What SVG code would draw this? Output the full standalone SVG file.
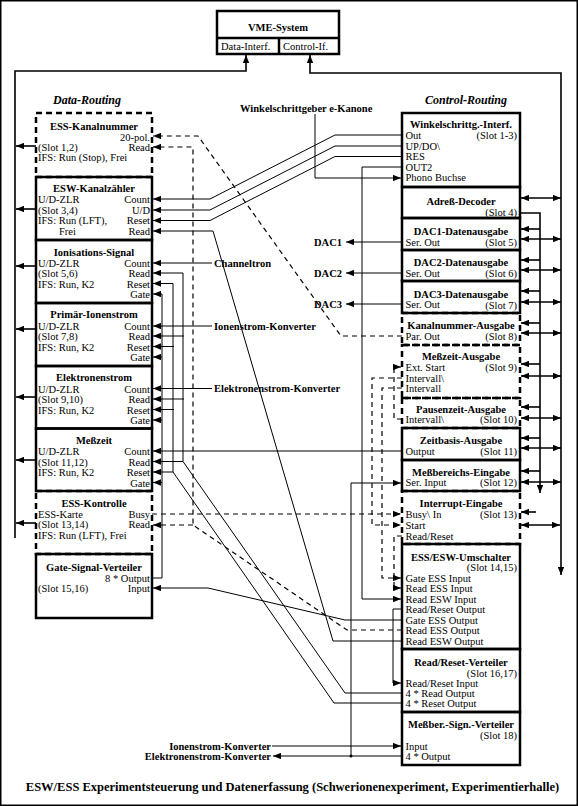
<svg xmlns="http://www.w3.org/2000/svg" width="578" height="806" viewBox="0 0 578 806">
<style>
.b{fill:none;stroke:#000;stroke-width:2.5}
.bd{fill:none;stroke:#000;stroke-width:2.5;stroke-dasharray:6 4}
.c{fill:none;stroke:#000;stroke-width:1}
.cd{fill:none;stroke:#000;stroke-width:1.2;stroke-dasharray:5 4}
.k{fill:none;stroke:#000;stroke-width:1.6}
.t{font-family:"Liberation Serif","Times New Roman",serif;font-size:10.5px;fill:#000}
.h{font-weight:bold;text-anchor:middle}
.r{text-anchor:end}
.bo{font-weight:bold}
.it{font-family:"Liberation Serif","Times New Roman",serif;font-size:12px;font-weight:bold;font-style:italic;text-anchor:middle}
</style>
<defs>
<marker id="a" viewBox="0 0 10 8" refX="10" refY="4" markerWidth="8" markerHeight="6.5" markerUnits="userSpaceOnUse" orient="auto-start-reverse"><path d="M0,0 L10,4 L0,8 z" fill="#000"/></marker>
</defs>
<rect x="0.75" y="0.75" width="576.5" height="804.5" fill="#fff" stroke="#000" stroke-width="1.5"/>

<g id="vme">
<rect class="b" x="217" y="11" width="122" height="43"/>
<line class="b" x1="217" y1="38" x2="339" y2="38"/>
<line class="b" x1="279" y1="38" x2="279" y2="54"/>
<text class="t h" x="278" y="31">VME-System</text>
<text class="t" x="221" y="50">Data-Interf.</text>
<text class="t" x="283" y="50">Control-If.</text>
</g>

<text class="it" x="87" y="104">Data-Routing</text>
<text class="it" x="466" y="104">Control-Routing</text>

<g id="ess-kanalnummer">
<rect class="bd" x="36" y="113" width="116" height="64"/>
<text class="t h" x="94" y="130">ESS-Kanalnummer</text>
<text class="t r" x="150" y="140.5">20-pol.</text>
<text class="t" x="38" y="151">(Slot 1,2)</text><text class="t r" x="150" y="151">Read</text>
<text class="t" x="38" y="161">IFS: Run (Stop), Frei</text>
</g>
<g id="ess-kontrolle">
<rect class="bd" x="36" y="491" width="116" height="63"/>
<text class="t h" x="94" y="506.5">ESS-Kontrolle</text>
<text class="t" x="38" y="517.5">ESS-Karte</text><text class="t r" x="150" y="517.5">Busy</text>
<text class="t" x="38" y="528">(Slot 13,14)</text><text class="t r" x="150" y="528">Read</text>
<text class="t" x="38" y="538.5">IFS: Run (LFT), Frei</text>
</g>
<g id="esw-kanalzaehler">
<rect class="b" x="36" y="177" width="116" height="63"/>
<text class="t h" x="94" y="192">ESW-Kanalzähler</text>
<text class="t" x="38" y="203">U/D-ZLR</text><text class="t r" x="150" y="203">Count</text>
<text class="t" x="38" y="213.5">(Slot 3,4)</text><text class="t r" x="150" y="213.5">U/D</text>
<text class="t" x="38" y="224">IFS: Run (LFT),</text><text class="t r" x="150" y="224">Reset</text>
<text class="t" x="59" y="234.5">Frei</text><text class="t r" x="150" y="234.5">Read</text>
</g>
<g id="ionisations-signal">
<rect class="b" x="36" y="240" width="116" height="63"/>
<text class="t h" x="94" y="255.5">Ionisations-Signal</text>
<text class="t" x="38" y="266.5">U/D-ZLR</text><text class="t r" x="150" y="266.5">Count</text>
<text class="t" x="38" y="277">(Slot 5,6)</text><text class="t r" x="150" y="277">Read</text>
<text class="t" x="38" y="287.5">IFS: Run, K2</text><text class="t r" x="150" y="287.5">Reset</text>
<text class="t r" x="150" y="298">Gate</text>
</g>
<g id="primaer-ionenstrom">
<rect class="b" x="36" y="303" width="116" height="63"/>
<text class="t h" x="94" y="318">Primär-Ionenstrom</text>
<text class="t" x="38" y="329.5">U/D-ZLR</text><text class="t r" x="150" y="329.5">Count</text>
<text class="t" x="38" y="340">(Slot 7,8)</text><text class="t r" x="150" y="340">Read</text>
<text class="t" x="38" y="350.5">IFS: Run, K2</text><text class="t r" x="150" y="350.5">Reset</text>
<text class="t r" x="150" y="361">Gate</text>
</g>
<g id="elektronenstrom">
<rect class="b" x="36" y="366" width="116" height="62.5"/>
<text class="t h" x="94" y="381">Elektronenstrom</text>
<text class="t" x="38" y="392.5">U/D-ZLR</text><text class="t r" x="150" y="392.5">Count</text>
<text class="t" x="38" y="403">(Slot 9,10)</text><text class="t r" x="150" y="403">Read</text>
<text class="t" x="38" y="413.5">IFS: Run, K2</text><text class="t r" x="150" y="413.5">Reset</text>
<text class="t r" x="150" y="424">Gate</text>
</g>
<g id="messzeit">
<rect class="b" x="36" y="428.5" width="116" height="62.5"/>
<text class="t h" x="94" y="444">Meßzeit</text>
<text class="t" x="38" y="455">U/D-ZLR</text><text class="t r" x="150" y="455">Count</text>
<text class="t" x="38" y="465.5">(Slot 11,12)</text><text class="t r" x="150" y="465.5">Read</text>
<text class="t" x="38" y="476">IFS: Run, K2</text><text class="t r" x="150" y="476">Reset</text>
<text class="t r" x="150" y="486.5">Gate</text>
</g>
<g id="gate-signal-verteiler">
<rect class="b" x="36" y="554" width="116" height="64"/>
<text class="t h" x="94" y="570.5">Gate-Signal-Verteiler</text>
<text class="t r" x="150" y="581.5">8 * Output</text>
<text class="t" x="38" y="591.5">(Slot 15,16)</text><text class="t r" x="150" y="591.5">Input</text>
</g>

<g id="kanalnummer-ausgabe">
<rect class="bd" x="402" y="313" width="118" height="32"/>
<text class="t h" x="461" y="329">Kanalnummer-Ausgabe</text>
<text class="t" x="405.5" y="339.5">Par. Out</text><text class="t r" x="517" y="339.5">(Slot 8)</text>
</g>
<g id="messzeit-ausgabe">
<rect class="bd" x="402" y="345" width="118" height="53"/>
<text class="t h" x="461" y="359.5">Meßzeit-Ausgabe</text>
<text class="t" x="405.5" y="370.5">Ext. Start</text><text class="t r" x="517" y="370.5">(Slot 9)</text>
<text class="t" x="405.5" y="381.5">Intervall\</text>
<text class="t" x="405.5" y="391.5">Intervall</text>
</g>
<g id="pausenzeit-ausgabe">
<rect class="bd" x="402" y="398" width="118" height="30"/>
<text class="t h" x="461" y="412.5">Pausenzeit-Ausgabe</text>
<text class="t" x="405.5" y="422.5">Intervall\</text><text class="t r" x="517" y="422.5">(Slot 10)</text>
</g>
<g id="interrupt-eingabe">
<rect class="bd" x="402" y="491" width="118" height="53"/>
<text class="t h" x="461" y="506.5">Interrupt-Eingabe</text>
<text class="t" x="405.5" y="517.5">Busy\ In</text><text class="t r" x="517" y="517.5">(Slot 13)</text>
<text class="t" x="405.5" y="528.5">Start</text>
<text class="t" x="405.5" y="539.5">Read/Reset</text>
</g>
<g id="winkelschrittg-interf">
<rect class="b" x="402" y="113" width="118" height="74"/>
<text class="t h" x="461" y="127.5">Winkelschrittg.-Interf.</text>
<text class="t" x="405.5" y="138.5">Out</text><text class="t r" x="517" y="138.5">(Slot 1-3)</text>
<text class="t" x="405.5" y="149.5">UP/DO\</text>
<text class="t" x="405.5" y="160">RES</text>
<text class="t" x="405.5" y="170.5">OUT2</text>
<text class="t" x="405.5" y="181">Phono Buchse</text>
</g>
<g id="adress-decoder">
<rect class="b" x="402" y="187" width="118" height="31"/>
<text class="t h" x="461" y="204.5">Adreß-Decoder</text>
<text class="t r" x="517" y="215.5">(Slot 4)</text>
</g>
<g id="dac1">
<rect class="b" x="402" y="218" width="118" height="32"/>
<text class="t h" x="461" y="234.5">DAC1-Datenausgabe</text>
<text class="t" x="405.5" y="245.5">Ser. Out</text><text class="t r" x="517" y="245.5">(Slot 5)</text>
</g>
<g id="dac2">
<rect class="b" x="402" y="250" width="118" height="31"/>
<text class="t h" x="461" y="266">DAC2-Datenausgabe</text>
<text class="t" x="405.5" y="276.5">Ser. Out</text><text class="t r" x="517" y="276.5">(Slot 6)</text>
</g>
<g id="dac3">
<rect class="b" x="402" y="281" width="118" height="32"/>
<text class="t h" x="461" y="297.5">DAC3-Datenausgabe</text>
<text class="t" x="405.5" y="307.5">Ser. Out</text><text class="t r" x="517" y="309">(Slot 7)</text>
</g>
<g id="zeitbasis-ausgabe">
<rect class="b" x="402" y="428" width="118" height="32"/>
<text class="t h" x="461" y="443.5">Zeitbasis-Ausgabe</text>
<text class="t" x="405.5" y="455">Output</text><text class="t r" x="517" y="455">(Slot 11)</text>
</g>
<g id="messbereichs-eingabe">
<rect class="b" x="402" y="460" width="118" height="31"/>
<text class="t h" x="461" y="475.5">Meßbereichs-Eingabe</text>
<text class="t" x="405.5" y="486">Ser. Input</text><text class="t r" x="517" y="486">(Slot 12)</text>
</g>
<g id="ess-esw-umschalter">
<rect class="b" x="402" y="544" width="118" height="105"/>
<text class="t h" x="461" y="560.5">ESS/ESW-Umschalter</text>
<text class="t r" x="517" y="570.5">(Slot 14,15)</text>
<text class="t" x="405.5" y="581.5">Gate ESS Input</text>
<text class="t" x="405.5" y="591.5">Read ESS Input</text>
<text class="t" x="405.5" y="602.5">Read ESW Input</text>
<text class="t" x="405.5" y="612.5">Read/Reset Output</text>
<text class="t" x="405.5" y="623.5">Gate ESS Output</text>
<text class="t" x="405.5" y="633.5">Read ESS Output</text>
<text class="t" x="405.5" y="644.5">Read ESW Output</text>
</g>
<g id="read-reset-verteiler">
<rect class="b" x="402" y="649" width="118" height="63"/>
<text class="t h" x="461" y="665.5">Read/Reset-Verteiler</text>
<text class="t r" x="517" y="676.5">(Slot 16,17)</text>
<text class="t" x="405.5" y="686.5">Read/Reset Input</text>
<text class="t" x="405.5" y="696.5">4 * Read Output</text>
<text class="t" x="405.5" y="706.5">4 * Reset Output</text>
</g>
<g id="messber-sign-verteiler">
<rect class="b" x="402" y="712" width="118" height="53"/>
<text class="t h" x="461" y="727.5">Meßber.-Sign.-Verteiler</text>
<text class="t r" x="517" y="738.5">(Slot 18)</text>
<text class="t" x="405.5" y="749.5">Input</text>
<text class="t" x="405.5" y="759.5">4 * Output</text>
</g>

<g id="labels">
<text class="t bo" x="240" y="111.5">Winkelschrittgeber e-Kanone</text>
<text class="t bo" x="214" y="266.5">Channeltron</text>
<text class="t bo" x="214" y="329.5">Ionenstrom-Konverter</text>
<text class="t bo" x="214" y="392">Elektronenstrom-Konverter</text>
<text class="t bo r" x="342" y="245.5">DAC1</text>
<text class="t bo r" x="342" y="276.5">DAC2</text>
<text class="t bo r" x="342" y="307.5">DAC3</text>
<text class="t bo r" x="271" y="749.5">Ionenstrom-Konverter</text>
<text class="t bo r" x="271" y="759.5">Elektronenstrom-Konverter</text>
<text class="t bo" x="292.5" y="791" style="font-size:12.5px;text-anchor:middle">ESW/ESS Experimentsteuerung und Datenerfassung (Schwerionenexperiment, Experimentierhalle)</text>
</g>

<g id="connectors">
<!-- buses -->
<path class="k" d="M15,538 L15,71 L246,71 L246,55" marker-end="url(#a)"/>
<path class="k" d="M561,575 L561,73 L310,73 L310,55" marker-start="url(#a)" marker-end="url(#a)"/>
<path class="k" d="M520,213 L540,213 L540,493" marker-end="url(#a)"/>
<g class="k">
<path d="M36,146 H16" marker-end="url(#a)"/>
<path d="M36,209 H16" marker-end="url(#a)"/>
<path d="M36,266 H16" marker-end="url(#a)"/>
<path d="M36,329 H16" marker-end="url(#a)"/>
<path d="M36,397 H16" marker-end="url(#a)"/>
<path d="M36,460 H16" marker-end="url(#a)"/>
<path d="M36,523 H16" marker-end="url(#a)"/>
<path d="M540,229 H521" marker-end="url(#a)"/>
<path d="M540,260 H521" marker-end="url(#a)"/>
<path d="M540,291 H521" marker-end="url(#a)"/>
<path d="M540,323 H521" marker-end="url(#a)"/>
<path d="M540,364 H521" marker-end="url(#a)"/>
<path d="M540,407 H521" marker-end="url(#a)"/>
<path d="M540,438 H521" marker-end="url(#a)"/>
<path d="M540,471 H521" marker-end="url(#a)"/>
<path d="M536,512 H521" marker-end="url(#a)"/>
<path d="M521,198 H561" marker-start="url(#a)" marker-end="url(#a)"/>
<path d="M521,239 H561" marker-start="url(#a)" marker-end="url(#a)"/>
<path d="M521,270 H561" marker-start="url(#a)" marker-end="url(#a)"/>
<path d="M521,302 H561" marker-start="url(#a)" marker-end="url(#a)"/>
<path d="M521,333 H561" marker-start="url(#a)" marker-end="url(#a)"/>
<path d="M521,376 H561" marker-start="url(#a)" marker-end="url(#a)"/>
<path d="M521,418 H561" marker-start="url(#a)" marker-end="url(#a)"/>
<path d="M521,448 H561" marker-start="url(#a)" marker-end="url(#a)"/>
<path d="M521,482 H561" marker-start="url(#a)" marker-end="url(#a)"/>
<path d="M521,525 H560" marker-start="url(#a)" marker-end="url(#a)"/>
</g>
<!-- DAC outputs -->
<path class="c" d="M402,242 L346,242" marker-end="url(#a)"/>
<path class="c" d="M402,273 L346,273" marker-end="url(#a)"/>
<path class="c" d="M402,304 L346,304" marker-end="url(#a)"/>
<!-- Winkelschrittgeber -->
<path class="c" d="M402,135 L335,135 L210,199 L153,199" marker-end="url(#a)"/>
<path class="c" d="M402,146 L335,146 L210,210 L153,210" marker-end="url(#a)"/>
<path class="c" d="M402,156.5 L335,156.5 L210,220.5 L153,220.5" marker-end="url(#a)"/>
<path class="c" d="M315,114 L315,178 L401,178" marker-end="url(#a)"/>
<path class="c" d="M402,167 L362,167 L362,599 L401,599" marker-end="url(#a)"/>
<path class="c" d="M402,641 L333,641 L213,231 L153,231" marker-end="url(#a)"/>
<!-- detectors -->
<path class="c" d="M212,263 L153,263" marker-end="url(#a)"/>
<path class="c" d="M212,326 L153,326" marker-end="url(#a)"/>
<path class="c" d="M212,388.5 L153,388.5" marker-end="url(#a)"/>
<!-- Read / Reset / Gate -->
<path class="c" d="M402,693 L345,693 L183,461.5 L183,273 L153,273" marker-end="url(#a)"/>
<path class="c" d="M184,336 L153,336" marker-end="url(#a)"/>
<path class="c" d="M184,399 L153,399" marker-end="url(#a)"/>
<path class="c" d="M183,461.5 L153,461.5" marker-end="url(#a)"/>
<path class="c" d="M402,703 L334,703 L173,472 L173,283.5 L153,283.5" marker-end="url(#a)"/>
<path class="c" d="M174,346.5 L153,346.5" marker-end="url(#a)"/>
<path class="c" d="M174,409.5 L153,409.5" marker-end="url(#a)"/>
<path class="c" d="M173,472 L153,472" marker-end="url(#a)"/>
<path class="c" d="M152,578 L162,578 L162,294 L153,294" marker-end="url(#a)"/>
<path class="c" d="M162,357 L153,357" marker-end="url(#a)"/>
<path class="c" d="M162,420 L153,420" marker-end="url(#a)"/>
<path class="c" d="M162,482.5 L153,482.5" marker-end="url(#a)"/>
<path class="c" d="M402,451 L153,451" marker-end="url(#a)"/>
<path class="c" d="M402,620 L345,620 L208,588 L153,588" marker-end="url(#a)"/>
<path class="c" d="M402,609 L393,609 L393,683 L401,683" marker-end="url(#a)"/>
<path class="c" d="M272,746 L401,746" marker-end="url(#a)"/>
<path class="c" d="M402,756 L273,756" marker-end="url(#a)"/>
<path class="c" d="M351,756 L351,483 L401,483" marker-end="url(#a)"/>
<circle cx="351" cy="756" r="1.5" fill="#000"/>
<!-- dashed -->
<path class="cd" d="M402,630 L347,630 L193,525 L193,147 L153,147" marker-end="url(#a)"/>
<path class="cd" d="M193,525 L153,525" marker-end="url(#a)"/>
<path class="cd" d="M402,336 L341,336 L198,136 L153,136" marker-end="url(#a)"/>
<path class="cd" d="M152,514 L401,514" marker-end="url(#a)"/>
<path class="cd" d="M402,419 L394,419 L394,367 L401,367" marker-end="url(#a)"/>
<path class="cd" d="M402,378 L372,378 L372,525 L401,525" marker-end="url(#a)"/>
<path class="cd" d="M402,388 L382,388 L382,578 L401,578" marker-end="url(#a)"/>
<path class="cd" d="M402,536 L394,536 L394,588 L401,588" marker-end="url(#a)"/>
</g>
</svg>
